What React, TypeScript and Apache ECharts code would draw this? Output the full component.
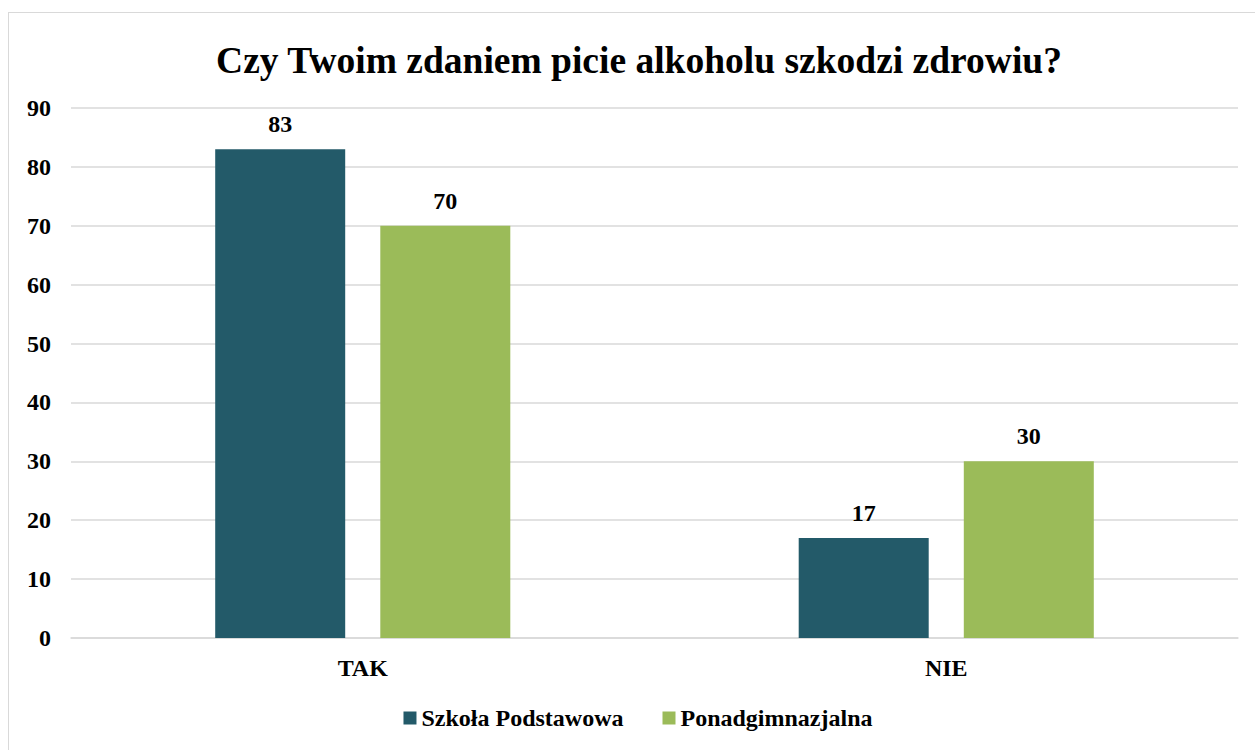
import React, { useEffect, useRef } from "react";
import * as echarts from "echarts";

const categories = ["TAK", "NIE"];
const seriesNames = ["Szkoła Podstawowa", "Ponadgimnazjalna"];
const szkolaValues = [83, 17];
const ponadValues = [70, 30];
const colors = ["#235A69", "#9BBB59"];

export default function App() {
  const ref = useRef<HTMLDivElement>(null);
  useEffect(() => {
    const chart = echarts.init(ref.current!, null, { renderer: "svg" });
    const font = "Times New Roman";
    const label = {
      show: true,
      position: "top",
      distance: 13,
      fontFamily: font,
      fontWeight: "bold",
      fontSize: 24,
      color: "#000",
    };
    chart.setOption({
      animation: false,
      textStyle: { fontFamily: font },
      title: {
        text: "Czy Twoim zdaniem picie alkoholu szkodzi zdrowiu?",
        left: 625,
        textAlign: "center",
        top: 23,
        textStyle: { fontFamily: font, fontWeight: "bold", fontSize: 37.5, color: "#000" },
      },
      legend: {
        bottom: 15,
        left: "center",
        itemWidth: 13,
        itemHeight: 13,
        itemGap: 39,
        icon: "rect",
        textStyle: { fontFamily: font, fontWeight: "bold", fontSize: 24, color: "#000" },
        data: seriesNames,
      },
      grid: { left: 62, top: 95, width: 1167, height: 530, containLabel: false },
      xAxis: {
        type: "category",
        data: categories,
        axisTick: { show: false },
        axisLine: { lineStyle: { color: "#d9d9d9", width: 1.5 } },
        axisLabel: { fontFamily: font, fontWeight: "bold", fontSize: 24, color: "#000", margin: 18 },
      },
      yAxis: {
        type: "value",
        min: 0,
        max: 90,
        interval: 10,
        axisLine: { show: false },
        axisTick: { show: false },
        splitLine: { lineStyle: { color: "#d9d9d9", width: 1.5 } },
        axisLabel: { fontFamily: font, fontWeight: "bold", fontSize: 24, color: "#000", margin: 20 },
      },
      series: [
        {
          name: seriesNames[0],
          type: "bar",
          data: szkolaValues,
          barWidth: 130,
          barGap: "27%",
          itemStyle: { color: colors[0] },
          label,
        },
        {
          name: seriesNames[1],
          type: "bar",
          data: ponadValues,
          barWidth: 130,
          barGap: "27%",
          itemStyle: { color: colors[1] },
          label,
        },
      ],
    });
    return () => chart.dispose();
  }, []);
  return (
    <div
      style={{
        position: "fixed",
        left: 8,
        top: 12,
        width: 1260,
        height: 760,
        border: "1px solid #d9d9d9",
        background: "#fff",
        boxSizing: "border-box",
      }}
    >
      <div ref={ref} style={{ width: 1258, height: 737 }} />
    </div>
  );
}
